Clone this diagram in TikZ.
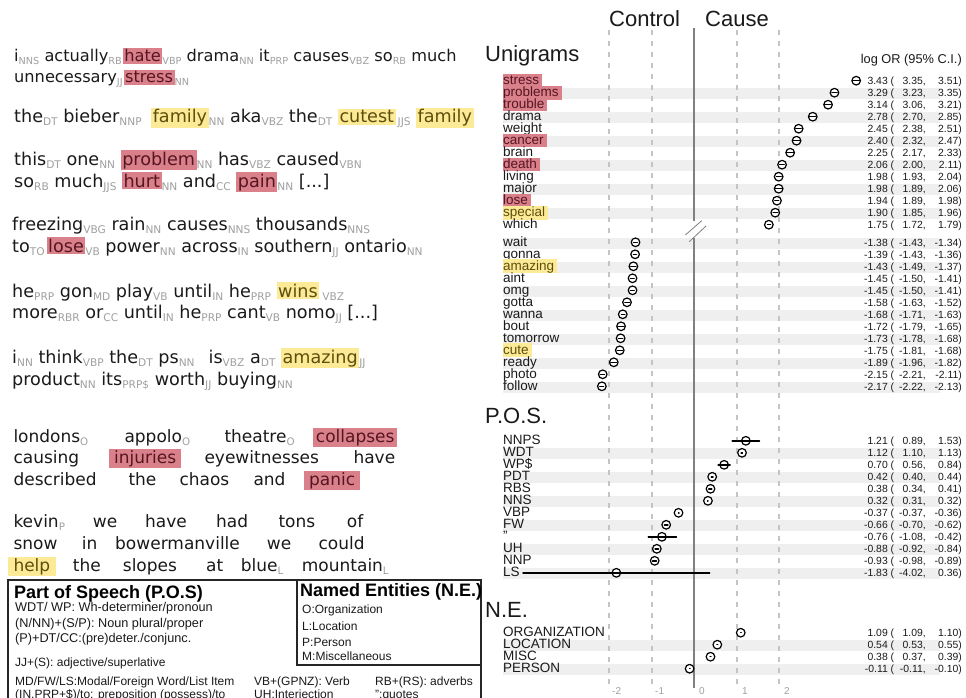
\documentclass[tikz,border=0pt]{standalone}
\usepackage{fontspec}
\setmainfont{Liberation Sans}
\newfontfamily\djvfont{DejaVu Sans}
\definecolor{hred}{RGB}{217,128,139}
\definecolor{hredt}{RGB}{85,22,32}
\definecolor{hyel}{RGB}{252,234,150}
\definecolor{hyelt}{RGB}{92,78,12}
\definecolor{bandc}{RGB}{239,239,239}
\definecolor{gridc}{RGB}{196,196,196}
\definecolor{zeroc}{RGB}{128,128,128}
\definecolor{tagc}{RGB}{160,160,160}
\definecolor{txt}{RGB}{26,26,26}
\def\tgsz{10}
\newcommand\tg[1]{\raisebox{-3pt}{\fontsize{\tgsz}{11}\selectfont\color{tagc}#1}}
\newcommand\hr[1]{{\setlength{\fboxsep}{1.5pt}\colorbox{hred}{\color{hredt}#1}}}
\newcommand\hy[1]{{\setlength{\fboxsep}{1.5pt}\colorbox{hyel}{\color{hyelt}#1}}}
\newcommand\chr[1]{{\setlength{\fboxsep}{0pt}\colorbox{hred}{\color{hredt}\rule[-2.6pt]{0pt}{13.6pt}#1\hspace{3pt}}}}
\newcommand\chy[1]{{\setlength{\fboxsep}{0pt}\colorbox{hyel}{\color{hyelt}\rule[-2.6pt]{0pt}{13.6pt}#1\hspace{3pt}}}}
\newcommand\crow[7]{%
  \node[clbl] (#1-l) at (503,#2+4) {#3};
  \node[cnum] (#1-e) at (888,#2+3.8) {#4};
  \node[cnum,anchor=base west] (#1-p) at (890.5,#2+3.8) {(};
  \node[cnum] (#1-lo) at (926,#2+3.8) {#5,};
  \node[cnum] (#1-hi) at (962,#2+3.8) {#6)};
  \pgfmathsetmacro\xe{694.3+42.6*(#4+#7)}%
  \pgfmathsetmacro\xl{694.3+42.6*(#5+#7)}%
  \pgfmathsetmacro\xh{694.3+42.6*(#6+#7)}%
  \draw[mkc] (\xe,#2) circle[radius=4.3pt];
  \draw[cil] (\xl,#2) -- (\xh,#2);
}
\newcommand\band[1]{\fill[bandc] (503,#1-4.5) rectangle (940,#1+6.5);}
\begin{document}
\begin{tikzpicture}[x=1pt,y=-1pt,
  lt/.style={font={\def\tgsz{10.3}\djvfont\fontsize{17}{20}\selectfont}, anchor=base west, inner sep=0pt, text=txt},
  lta/.style={lt, font={\def\tgsz{9.7}\djvfont\fontsize{16.2}{19}\selectfont}},
  ltb/.style={lt, font={\def\tgsz{10.6}\djvfont\fontsize{17.6}{20}\selectfont}},
  hlr/.style={lt, fill=hred, text=hredt, inner xsep=5pt, inner ysep=1pt},
  hly/.style={lt, fill=hyel, text=hyelt, inner xsep=5pt, inner ysep=1pt},
  clbl/.style={font=\fontsize{13.5}{14}\selectfont, anchor=base west, inner sep=0pt, text=txt},
  cnum/.style={font=\fontsize{10.4}{11}\selectfont, anchor=base east, inner sep=0pt, text=txt},
  ctitle/.style={font=\fontsize{22}{24}\selectfont, anchor=base west, inner sep=0pt, text=txt},
  tick/.style={font=\fontsize{10}{11}\selectfont, anchor=base west, inner sep=0pt, text=tagc},
  mkc/.style={draw=black, line width=1.2pt, fill=white},
  cil/.style={draw=black, line width=1.5pt, line cap=round},
  gridl/.style={draw=gridc, line width=1.3pt, dash pattern=on 5pt off 6pt},
  leg/.style={font=\fontsize{12}{13}\selectfont, anchor=base west, inner sep=0pt, text=txt},
  legb/.style={leg, font=\fontsize{12.7}{13}\selectfont},
  legt/.style={font=\bfseries\fontsize{18}{20}\selectfont, anchor=base west, inner sep=0pt, text=black},
  lbox/.style={draw=black!85, line width=1.2pt}
]
\useasboundingbox (0,0) rectangle (966,698);
\fill[white] (0,0) rectangle (966,698);

% ---------------- left text ----------------
\node[lta] (p1a) at (14,62) {i\tg{NNS} actually\tg{RB}\kern1pt\hr{hate}\tg{VBP} drama\tg{NN} it\tg{PRP} causes\tg{VBZ} so\tg{RB} much};
\node[lta] (p1b) at (14,83) {unnecessary\tg{JJ}\kern1pt\hr{stress}\tg{NN}};
\node[ltb] (p2) at (14,123) {the\tg{DT} bieber\tg{NNP}\hspace{4pt} \hy{family}\tg{NN} aka\tg{VBZ} the\tg{DT} \hy{cutest}\kern2pt\tg{JJS} \hy{family}};
\node[ltb] (p3a) at (14,165) {this\tg{DT} one\tg{NN} \hr{problem}\tg{NN} has\tg{VBZ} caused\tg{VBN}};
\node[ltb] (p3b) at (14,187) {so\tg{RB} much\tg{JJS} \hr{hurt}\tg{NN} and\tg{CC} \hr{pain}\tg{NN} [...]};
\node[ltb] (p4a) at (12,230) {freezing\tg{VBG} rain\tg{NN} causes\tg{NNS} thousands\tg{NNS}};
\node[ltb] (p4b) at (12,252) {to\tg{TO}\kern2pt\hr{lose}\tg{VB} power\tg{NN} across\tg{IN} southern\tg{JJ} ontario\tg{NN}};
\node[ltb] (p5a) at (12,297) {he\tg{PRP} gon\tg{MD} play\tg{VB} until\tg{IN} he\tg{PRP} \hy{wins}\kern3pt\tg{VBZ}};
\node[ltb] (p5b) at (12,318) {more\tg{RBR} or\tg{CC} until\tg{IN} he\tg{PRP} cant\tg{VB} nomo\tg{JJ} [...]};
\node[ltb] (p6a) at (12,363) {i\tg{NN} think\tg{VBP} the\tg{DT} ps\tg{NN}\hspace{14pt}is\tg{VBZ} a\tg{DT} \hy{amazing}\tg{JJ}};
\node[ltb] (p6b) at (12,385) {product\tg{NN} its\tg{PRP\$} worth\tg{JJ} buying\tg{NN}};

\node[lt] (w71) at (13.3,442) {londons\tg{O}};
\node[lt] (w72) at (124.3,442) {appolo\tg{O}};
\node[lt] (w73) at (224.3,442) {theatre\tg{O}};
\node[hlr,inner xsep=3pt] (w74) at (312.7,442) {collapses};
\node[lt] (w75) at (13.3,463) {causing};
\node[hlr] (w76) at (109,463) {injuries};
\node[lt] (w77) at (204.3,463) {eyewitnesses};
\node[lt] (w78) at (353.3,463) {have};
\node[lt] (w79) at (13.3,485) {described};
\node[lt] (w710) at (128.3,485) {the};
\node[lt] (w711) at (179.3,485) {chaos};
\node[lt] (w712) at (253.3,485) {and};
\node[hlr] (w713) at (304,485) {panic};

\node[lt] (w81) at (13.3,527) {kevin\tg{P}};
\node[lt] (w82) at (92.7,527) {we};
\node[lt] (w83) at (145,527) {have};
\node[lt] (w84) at (216,527) {had};
\node[lt] (w85) at (278.3,527) {tons};
\node[lt] (w86) at (346.7,527) {of};
\node[lt] (w87) at (13.3,549) {snow};
\node[lt] (w88) at (81.7,549) {in};
\node[lt] (w89) at (115,549) {bowermanville};
\node[lt] (w810) at (266.7,549) {we};
\node[lt] (w811) at (318.3,549) {could};
\node[hly,inner xsep=6pt] (w812) at (7.3,571) {help};
\node[lt] (w813) at (72.7,571) {the};
\node[lt] (w814) at (122.7,571) {slopes};
\node[lt] (w815) at (206,571) {at};
\node[lt] (w816) at (240.7,571) {blue\tg{L}};
\node[lt] (w817) at (301.7,571) {mountain\tg{L}};

% ---------------- legend ----------------
\draw[lbox] (8,580) rectangle (481,720);
\draw[lbox] (297,580) rectangle (481,665);
\node[legt] (lt1) at (14,598) {Part of Speech (P.O.S)};
\node[legt] (lt2) at (300,596) {Named Entities (N.E.)};
\node[legb] (lg1) at (15,611.5) {WDT/ WP: Wh-determiner/pronoun};
\node[legb] (lg2) at (15,627.5) {(N/NN)+(S/P): Noun plural/proper};
\node[legb] (lg3) at (15,642) {(P)+DT/CC:(pre)deter./conjunc.};
\node[leg] (lg4) at (15,666) {JJ+(S): adjective/superlative};
\node[leg] (lg5) at (15,685.5) {MD/FW/LS:Modal/Foreign Word/List Item};
\node[leg] (lg6) at (15,698) {(IN,PRP+\$)/to: preposition (possess)/to};
\node[leg] (lg7) at (254,685.5) {VB+(GPNZ): Verb};
\node[leg] (lg8) at (254,698) {UH:Interjection};
\node[leg] (lg9) at (375,685.5) {RB+(RS): adverbs};
\node[leg] (lg10) at (375,698) {":quotes};
\node[leg] (ne1) at (302,613.5) {O:Organization};
\node[leg] (ne2) at (302,630) {L:Location};
\node[leg] (ne3) at (302,646) {P:Person};
\node[leg] (ne4) at (302,660) {M:Miscellaneous};

% ---------------- chart ----------------
\foreach \yy in {92.7,116.7,140.7,164.7,188.7,212.7,
                 242.3,266.3,290.3,314.3,338.3,362.3,386.3,
                 452.8,476.8,500.8,524.8,548.8,572.8,
                 644.7,668.7} {\band{\yy}}
\foreach \gx in {609,652,737,779} {\draw[gridl] (\gx,30) -- (\gx,688);}
\draw[zeroc, line width=2pt] (694.3,28) -- (694.3,221);
\draw[zeroc, line width=2pt] (694.3,238) -- (694.3,688);
\draw[zeroc, line width=0.8pt] (685.3,235) -- (701.7,220.7);
\draw[zeroc, line width=0.8pt] (689.3,241.7) -- (706,226);

\node[ctitle] (tctl) at (609,27) {Control};
\node[ctitle] (tcau) at (705,27) {Cause};
\node[ctitle] (tuni) at (485,61.5) {Unigrams};
\node[ctitle] (tpos) at (485,423.3) {P.O.S.};
\node[ctitle] (tne) at (485,617.3) {N.E.};
\node[font=\fontsize{12.8}{14}\selectfont, anchor=base east, inner sep=0pt, text=txt] (hdr) at (962,64) {log OR (95\% C.I.)};

\node[tick] (tk1) at (612,694) {-2};
\node[tick] (tk2) at (655,694) {-1};
\node[tick] (tk3) at (699,694) {0};
\node[tick] (tk4) at (742,694) {1};
\node[tick] (tk5) at (784,694) {2};

\crow{u1}{80.7}{\chr{stress}}{3.43}{3.35}{3.51}{0.37}
\crow{u2}{92.7}{\chr{problems}}{3.29}{3.23}{3.35}{0}
\crow{u3}{104.7}{\chr{trouble}}{3.14}{3.06}{3.21}{0}
\crow{u4}{116.7}{drama}{2.78}{2.70}{2.85}{0}
\crow{u5}{128.7}{weight}{2.45}{2.38}{2.51}{0}
\crow{u6}{140.7}{\chr{cancer}}{2.40}{2.32}{2.47}{0}
\crow{u7}{152.7}{brain}{2.25}{2.17}{2.33}{0}
\crow{u8}{164.7}{\chr{death}}{2.06}{2.00}{2.11}{0}
\crow{u9}{176.7}{living}{1.98}{1.93}{2.04}{0}
\crow{u10}{188.7}{major}{1.98}{1.89}{2.06}{0}
\crow{u11}{200.7}{\chr{lose}}{1.94}{1.89}{1.98}{0}
\crow{u12}{212.7}{\chy{special}}{1.90}{1.85}{1.96}{0}
\crow{u13}{224.7}{which}{1.75}{1.72}{1.79}{0}

\crow{d1}{242.3}{wait}{-1.38}{-1.43}{-1.34}{0}
\crow{d2}{254.3}{gonna}{-1.39}{-1.43}{-1.36}{0}
\crow{d3}{266.3}{\chy{amazing}}{-1.43}{-1.49}{-1.37}{0}
\crow{d4}{278.3}{aint}{-1.45}{-1.50}{-1.41}{0}
\crow{d5}{290.3}{omg}{-1.45}{-1.50}{-1.41}{0}
\crow{d6}{302.3}{gotta}{-1.58}{-1.63}{-1.52}{0}
\crow{d7}{314.3}{wanna}{-1.68}{-1.71}{-1.63}{0}
\crow{d8}{326.3}{bout}{-1.72}{-1.79}{-1.65}{0}
\crow{d9}{338.3}{tomorrow}{-1.73}{-1.78}{-1.68}{0}
\crow{d10}{350.3}{\chy{cute}}{-1.75}{-1.81}{-1.68}{0}
\crow{d11}{362.3}{ready}{-1.89}{-1.96}{-1.82}{0}
\crow{d12}{374.3}{photo}{-2.15}{-2.21}{-2.11}{0}
\crow{d13}{386.3}{follow}{-2.17}{-2.22}{-2.13}{0}

\crow{p1}{440.8}{NNPS}{1.21}{0.89}{1.53}{0}
\crow{p2}{452.8}{WDT}{1.12}{1.10}{1.13}{0}
\crow{p3}{464.8}{WP\$}{0.70}{0.56}{0.84}{0}
\crow{p4}{476.8}{PDT}{0.42}{0.40}{0.44}{0}
\crow{p5}{488.8}{RBS}{0.38}{0.34}{0.41}{0}
\crow{p6}{500.8}{NNS}{0.32}{0.31}{0.32}{0}
\crow{p7}{512.8}{VBP}{-0.37}{-0.37}{-0.36}{0}
\crow{p8}{524.8}{FW}{-0.66}{-0.70}{-0.62}{0}
\crow{p9}{536.8}{"}{-0.76}{-1.08}{-0.42}{0}
\crow{p10}{548.8}{UH}{-0.88}{-0.92}{-0.84}{0}
\crow{p11}{560.8}{NNP}{-0.93}{-0.98}{-0.89}{0}
\crow{p12}{572.8}{LS}{-1.83}{-4.02}{0.36}{0}

\crow{n1}{632.7}{ORGANIZATION}{1.09}{1.09}{1.10}{0}
\crow{n2}{644.7}{LOCATION}{0.54}{0.53}{0.55}{0}
\crow{n3}{656.7}{MISC}{0.38}{0.37}{0.39}{0}
\crow{n4}{668.7}{PERSON}{-0.11}{-0.11}{-0.10}{0}
\end{tikzpicture}
\end{document}
